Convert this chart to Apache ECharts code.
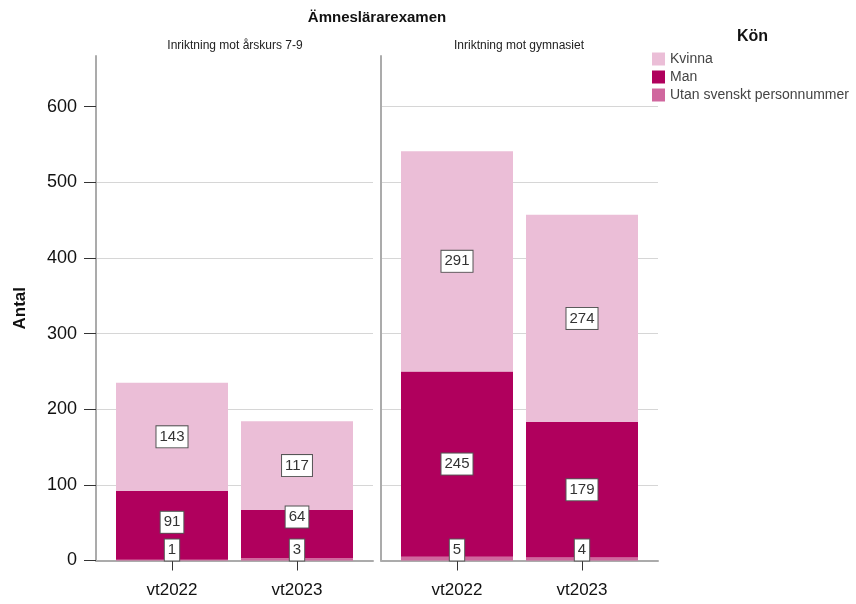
<!DOCTYPE html>
<html><head><meta charset="utf-8">
<script src="https://cdn.jsdelivr.net/npm/echarts@6/dist/echarts.min.js"></script>
<style>html,body{margin:0;padding:0;background:#fff}#c{width:856px;height:604px}</style>
</head><body><div id="c"></div>
<script>
const mainTitle = 'Ämneslärarexamen';
const panelTitles = ['Inriktning mot årskurs 7-9', 'Inriktning mot gymnasiet'];
const categories = ['vt2022', 'vt2023'];
const legendTitle = 'Kön';
const legendNames = ['Kvinna', 'Man', 'Utan svenskt personnummer'];
const kvinna79 = [143, 117];
const man79 = [91, 64];
const utan79 = [1, 3];
const kvinnaGy = [291, 274];
const manGy = [245, 179];
const utanGy = [5, 4];
const yTicks = [0, 100, 200, 300, 400, 500, 600];
const yMax = 667;

// styling (not data)
const FONT = '"Liberation Sans", Arial, sans-serif';
const colors = { 'Kvinna': '#EBBED7', 'Man': '#B0005D', 'Utan svenskt personnummer': '#D0679E' };
const manNudgeA = [-3, -17];
const gridColor = '#D6D6D6';
const axisColor = '#ABABAB';

const chart = echarts.init(document.getElementById('c'), null, { renderer: 'canvas' });

const labelBase = {
  show: true,
  backgroundColor: '#fff',
  borderColor: '#555',
  borderWidth: 1,
  padding: [3, 3, 3, 3],
  color: '#333',
  fontSize: 15,
  fontFamily: FONT
};

function makeSeries(name, vals, axisIdx, stack, position, nudges) {
  return {
    type: 'bar',
    name: name,
    stack: stack,
    xAxisIndex: axisIdx,
    yAxisIndex: axisIdx,
    barWidth: 112,
    itemStyle: { color: colors[name] },
    label: Object.assign({}, labelBase, position === 'bottom' ? { position: 'insideBottom', distance: 0 } : { position: 'inside' }),
    data: vals.map((v, i) => nudges ? { value: v, label: { offset: [0, nudges[i]] } } : v)
  };
}

const bgY = (showLabels) => ({
  type: 'value', min: 0, max: yMax, interval: 100,
  axisLine: { show: true, lineStyle: { color: axisColor, width: 2 } },
  axisTick: showLabels ? { show: true, customValues: yTicks, length: 12, lineStyle: { color: '#333', width: 1 } } : { show: false },
  axisLabel: showLabels ? { show: true, customValues: yTicks, margin: 19, fontSize: 18, color: '#111', fontFamily: FONT } : { show: false },
  splitLine: { show: true, showMaxLine: false, showMinLine: false, lineStyle: { color: gridColor, width: 1 } }
});

const bgX = {
  type: 'value', min: 0, max: 1,
  axisLine: { show: true, lineStyle: { color: axisColor, width: 2 } },
  axisTick: { show: false }, axisLabel: { show: false }, splitLine: { show: false }
};

const dataX = {
  type: 'category', data: categories,
  axisLine: { show: false },
  axisTick: { show: true, alignWithLabel: true, length: 10, lineStyle: { color: '#333' } },
  axisLabel: { fontSize: 17, color: '#111', margin: 21, fontFamily: FONT }
};
const dataY = { type: 'value', min: 0, max: yMax, show: false, splitLine: { show: false } };

const yA = bgY(true);
yA.name = 'Antal';
yA.nameLocation = 'middle';
yA.nameRotate = 90;
yA.nameGap = 67;
yA.nameTextStyle = { fontSize: 17, fontWeight: 'bold', color: '#111', fontFamily: FONT };

chart.setOption({
  backgroundColor: '#fff',
  animation: false,
  textStyle: { fontFamily: FONT },
  title: [
    { text: mainTitle, left: 372, top: 5, textAlign: 'center', textStyle: { fontSize: 15, fontWeight: 'bold', color: '#111', fontFamily: FONT } },
    { text: panelTitles[0], left: 230, top: 35, textAlign: 'center', textStyle: { fontSize: 12, fontWeight: 'normal', color: '#222', fontFamily: FONT } },
    { text: panelTitles[1], left: 514, top: 35, textAlign: 'center', textStyle: { fontSize: 12, fontWeight: 'normal', color: '#222', fontFamily: FONT } },
    { text: legendTitle, left: 732, top: 24, textStyle: { fontSize: 16, fontWeight: 'bold', color: '#111', fontFamily: FONT } }
  ],
  legend: {
    orient: 'vertical', left: 647, top: 47,
    itemWidth: 13, itemHeight: 13, itemGap: 4,
    icon: 'rect',
    data: legendNames,
    textStyle: { fontSize: 14, color: '#444', fontFamily: FONT, lineHeight: 14 },
    selectedMode: false
  },
  grid: [
    { left: 96, right: 483, top: 56, bottom: 43.5 },
    { left: 381, right: 198, top: 56, bottom: 43.5 },
    { left: 109.5, right: 496.5, top: 56, bottom: 43.5 },
    { left: 394.5, right: 211.5, top: 56, bottom: 43.5 }
  ],
  xAxis: [
    Object.assign({ gridIndex: 0 }, bgX),
    Object.assign({ gridIndex: 1 }, bgX),
    Object.assign({ gridIndex: 2 }, dataX),
    Object.assign({ gridIndex: 3 }, dataX)
  ],
  yAxis: [
    Object.assign({ gridIndex: 0 }, yA),
    Object.assign({ gridIndex: 1 }, bgY(false)),
    Object.assign({ gridIndex: 2 }, dataY),
    Object.assign({ gridIndex: 3 }, dataY)
  ],
  series: [
    makeSeries('Utan svenskt personnummer', utan79, 2, 'A', 'bottom'),
    makeSeries('Man', man79, 2, 'A', 'inside', manNudgeA),
    makeSeries('Kvinna', kvinna79, 2, 'A', 'inside'),
    makeSeries('Utan svenskt personnummer', utanGy, 3, 'B', 'bottom'),
    makeSeries('Man', manGy, 3, 'B', 'inside'),
    makeSeries('Kvinna', kvinnaGy, 3, 'B', 'inside')
  ]
});
</script>
</body></html>
